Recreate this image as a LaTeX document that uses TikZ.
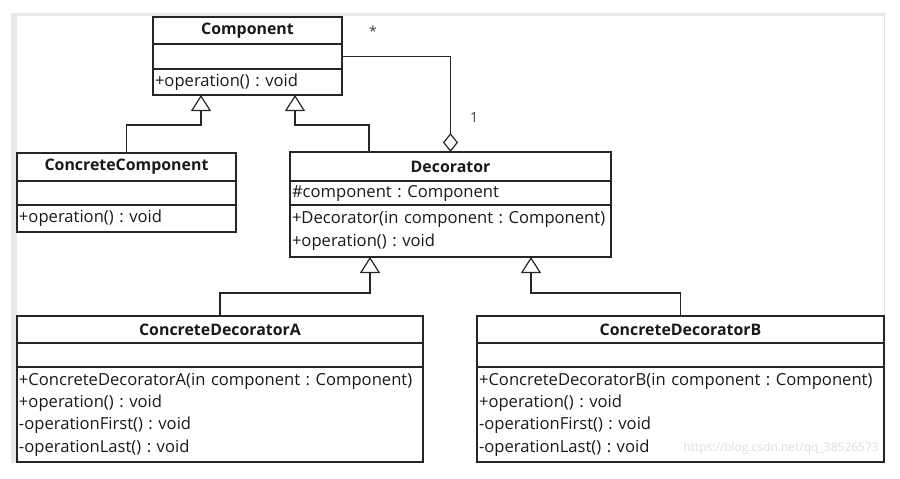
\documentclass[tikz,border=0pt]{standalone}
\usepackage{fontspec}
\setmainfont{Open Sans}
\usetikzlibrary{arrows.meta,positioning}

\tikzset{
  uml/.style={draw=black!85,line width=1.2pt,inner sep=0pt,outer sep=0pt,anchor=north west,text=black!90},
  umltitle/.style={uml,font=\fontsize{15.9}{18}\selectfont\bfseries},
  umlpart/.style={uml,align=left,inner xsep=2pt,font=\fontsize{16.6}{22.3}\selectfont\frenchspacing},
  gen/.style={draw=black!85,line width=1.2pt,-{Triangle[open,length=16pt,width=20pt]}},
  agg/.style={draw=black!85,line width=1.2pt,{Diamond[open,length=19pt,width=15pt]}-},
  mult/.style={font=\rmfamily\fontsize{14}{14}\selectfont,text=black!75,inner sep=0pt}
}

\begin{document}
\begin{tikzpicture}[x=1pt,y=-1pt]
\useasboundingbox (0,0) rectangle (900,479);
% light frame of the screenshot
\fill[black!9] (11,13) rectangle (885,16);
\fill[black!9] (11,13) rectangle (17,463);
\draw[black!12,line width=1pt] (884,13) -- (884,316);

% Component
\node[umltitle,minimum width=189pt,minimum height=27pt] (comp) at (153,17) {Component};
\node[umlpart,minimum width=189pt,minimum height=25pt] (compA) at (comp.south west) {};
\node[umlpart,text width=185pt,minimum height=26pt] (compO) at (compA.south west) {+operation() : void};

% ConcreteComponent
\node[umltitle,minimum width=219pt,minimum height=28pt] (cc) at (17,153) {ConcreteComponent};
\node[umlpart,minimum width=219pt,minimum height=24pt] (ccA) at (cc.south west) {};
\node[umlpart,text width=215pt,minimum height=27pt] (ccO) at (ccA.south west) {+operation() : void};

% Decorator
\node[umltitle,minimum width=321pt,minimum height=29pt] (dec) at (290,152) {Decorator};
\node[umlpart,text width=317pt,minimum height=24pt] (decA) at (dec.south west) {\#component : Component};
\node[umlpart,text width=317pt,minimum height=52pt] (decO) at (decA.south west) {+Decorator(in component : Component)\\+operation() : void};

% ConcreteDecoratorA
\node[umltitle,minimum width=406pt,minimum height=27pt] (cda) at (17,316) {ConcreteDecoratorA};
\node[umlpart,minimum width=406pt,minimum height=24pt] (cdaA) at (cda.south west) {};
\node[umlpart,text width=402pt,minimum height=95pt] (cdaO) at (cdaA.south west) {+ConcreteDecoratorA(in component : Component)\\+operation() : void\\-operationFirst() : void\\-operationLast() : void};

% ConcreteDecoratorB
\node[umltitle,minimum width=407pt,minimum height=27pt] (cdb) at (477,316) {ConcreteDecoratorB};
\node[umlpart,minimum width=407pt,minimum height=24pt] (cdbA) at (cdb.south west) {};
\node[umlpart,text width=403pt,minimum height=95pt] (cdbO) at (cdbA.south west) {+ConcreteDecoratorB(in component : Component)\\+operation() : void\\-operationFirst() : void\\-operationLast() : void};

% generalisations
\coordinate (k1) at (201,125);
\draw[gen] (cc.north) |- (k1) -- (k1 |- compO.south);
\coordinate (k2a) at (369,125);
\coordinate (k2b) at (295,125);
\draw[gen] (k2a |- dec.north) -- (k2a) -- (k2b) -- (k2b |- compO.south);
\coordinate (k3) at (370,293);
\draw[gen] (cda.north) |- (k3) -- (k3 |- decO.south);
\coordinate (k4) at (531,293);
\draw[gen] (cdb.north) |- (k4) -- (k4 |- decO.south);

% aggregation
\draw[agg] (dec.north) |- (compA.east);
\node[mult] (mulMany) at (373,31) {*};
\node[mult] (mulOne) at (474,118) {1};

% watermark
\node[font=\fontsize{12}{12}\selectfont,text=black!13,anchor=east,inner sep=0pt] (mark) at (879,448) {https://blog.csdn.net/qq\_38526573};
\end{tikzpicture}
\end{document}
